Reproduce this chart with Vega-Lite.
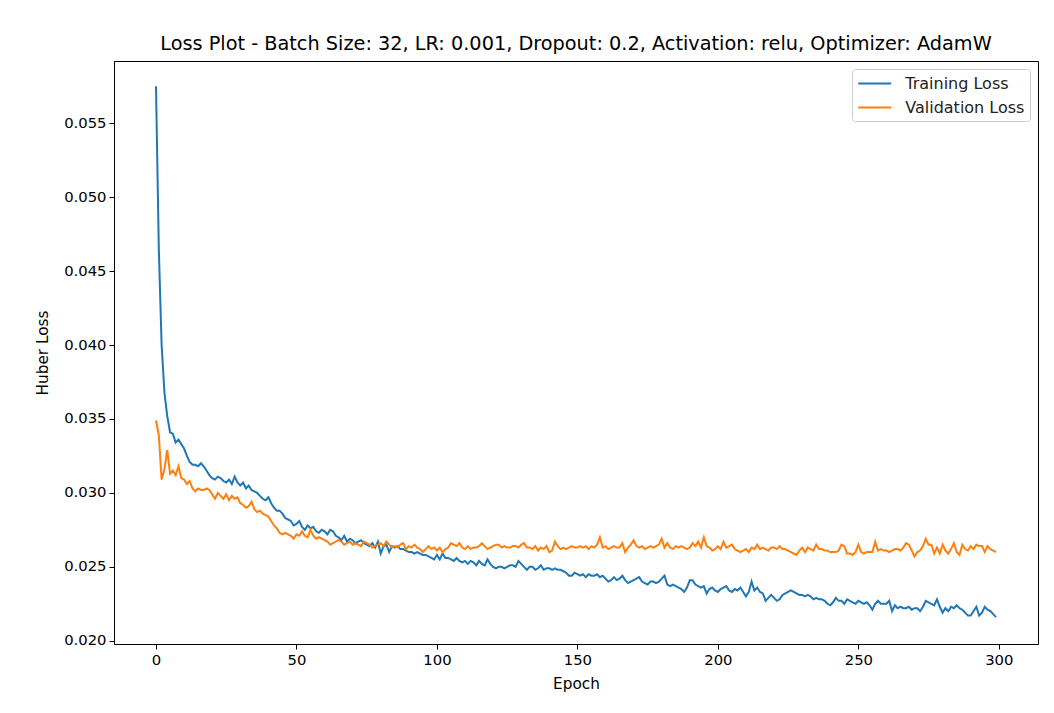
{
  "$schema": "https://vega.github.io/schema/vega-lite/v6.json",
  "autosize": {"type": "none"},
  "width": 924,
  "height": 583,
  "padding": {"left": 114, "top": 61, "right": 16, "bottom": 69},
  "background": "white",
  "title": {"text": "Loss Plot - Batch Size: 32, LR: 0.001, Dropout: 0.2, Activation: relu, Optimizer: AdamW", "font": "DejaVu Sans", "fontSize": 19.3, "fontWeight": "normal", "color": "#000", "anchor": "middle", "offset": 7},
  "config": {
    "font": "DejaVu Sans",
    "view": {"stroke": "#000", "strokeWidth": 1},
    "axis": {"grid": false, "domainColor": "#000", "domainWidth": 1, "tickColor": "#000", "tickSize": 5, "tickWidth": 1, "labelFont": "DejaVu Sans", "labelFontSize": 14.8, "labelColor": "#000", "titleFont": "DejaVu Sans", "titleFontSize": 15.3, "titleFontWeight": "normal", "titleColor": "#000", "labelPadding": 3}
  },
  "data": {"values": [
{"e":0,"Training Loss":0.0575,"Validation Loss":0.0349},{"e":1,"Training Loss":0.0465,"Validation Loss":0.0339},{"e":2,"Training Loss":0.0400,"Validation Loss":0.0309},{"e":3,"Training Loss":0.0368,"Validation Loss":0.0316},{"e":4,"Training Loss":0.0352,"Validation Loss":0.0329},{"e":5,"Training Loss":0.0341,"Validation Loss":0.0313},{"e":6,"Training Loss":0.0340,"Validation Loss":0.0315},{"e":7,"Training Loss":0.0334,"Validation Loss":0.0312},{"e":8,"Training Loss":0.0336,"Validation Loss":0.0318},{"e":9,"Training Loss":0.0333,"Validation Loss":0.0310},
{"e":10,"Training Loss":0.0330,"Validation Loss":0.0309},{"e":11,"Training Loss":0.0325,"Validation Loss":0.0306},{"e":12,"Training Loss":0.0321,"Validation Loss":0.0308},{"e":13,"Training Loss":0.0319,"Validation Loss":0.0303},{"e":14,"Training Loss":0.0319,"Validation Loss":0.0301},{"e":15,"Training Loss":0.0318,"Validation Loss":0.0303},{"e":16,"Training Loss":0.0320,"Validation Loss":0.0302},{"e":17,"Training Loss":0.0318,"Validation Loss":0.0302},{"e":18,"Training Loss":0.0315,"Validation Loss":0.0303},{"e":19,"Training Loss":0.0312,"Validation Loss":0.0302},
{"e":20,"Training Loss":0.0310,"Validation Loss":0.0299},{"e":21,"Training Loss":0.0309,"Validation Loss":0.0296},{"e":22,"Training Loss":0.0311,"Validation Loss":0.0300},{"e":23,"Training Loss":0.0310,"Validation Loss":0.0298},{"e":24,"Training Loss":0.0308,"Validation Loss":0.0296},{"e":25,"Training Loss":0.0307,"Validation Loss":0.0299},{"e":26,"Training Loss":0.0309,"Validation Loss":0.0295},{"e":27,"Training Loss":0.0306,"Validation Loss":0.0298},{"e":28,"Training Loss":0.0311,"Validation Loss":0.0296},{"e":29,"Training Loss":0.0307,"Validation Loss":0.0297},
{"e":30,"Training Loss":0.0305,"Validation Loss":0.0293},{"e":31,"Training Loss":0.0307,"Validation Loss":0.0292},{"e":32,"Training Loss":0.0303,"Validation Loss":0.0290},{"e":33,"Training Loss":0.0305,"Validation Loss":0.0291},{"e":34,"Training Loss":0.0302,"Validation Loss":0.0294},{"e":35,"Training Loss":0.0301,"Validation Loss":0.0289},{"e":36,"Training Loss":0.0300,"Validation Loss":0.0287},{"e":37,"Training Loss":0.0298,"Validation Loss":0.0288},{"e":38,"Training Loss":0.0296,"Validation Loss":0.0286},{"e":39,"Training Loss":0.0295,"Validation Loss":0.0285},
{"e":40,"Training Loss":0.0297,"Validation Loss":0.0284},{"e":41,"Training Loss":0.0293,"Validation Loss":0.0281},{"e":42,"Training Loss":0.0290,"Validation Loss":0.0278},{"e":43,"Training Loss":0.0288,"Validation Loss":0.0276},{"e":44,"Training Loss":0.0288,"Validation Loss":0.0273},{"e":45,"Training Loss":0.0286,"Validation Loss":0.0272},{"e":46,"Training Loss":0.0283,"Validation Loss":0.0273},{"e":47,"Training Loss":0.0282,"Validation Loss":0.0272},{"e":48,"Training Loss":0.0281,"Validation Loss":0.0271},{"e":49,"Training Loss":0.0278,"Validation Loss":0.0269},
{"e":50,"Training Loss":0.0279,"Validation Loss":0.0272},{"e":51,"Training Loss":0.0281,"Validation Loss":0.0271},{"e":52,"Training Loss":0.0277,"Validation Loss":0.0274},{"e":53,"Training Loss":0.0275,"Validation Loss":0.0271},{"e":54,"Training Loss":0.0278,"Validation Loss":0.0270},{"e":55,"Training Loss":0.0276,"Validation Loss":0.0275},{"e":56,"Training Loss":0.0277,"Validation Loss":0.0271},{"e":57,"Training Loss":0.0274,"Validation Loss":0.0269},{"e":58,"Training Loss":0.0273,"Validation Loss":0.0270},{"e":59,"Training Loss":0.0275,"Validation Loss":0.0269},
{"e":60,"Training Loss":0.0274,"Validation Loss":0.0268},{"e":61,"Training Loss":0.0272,"Validation Loss":0.0267},{"e":62,"Training Loss":0.0275,"Validation Loss":0.0265},{"e":63,"Training Loss":0.0274,"Validation Loss":0.0266},{"e":64,"Training Loss":0.0271,"Validation Loss":0.0267},{"e":65,"Training Loss":0.0270,"Validation Loss":0.0268},{"e":66,"Training Loss":0.0268,"Validation Loss":0.0267},{"e":67,"Training Loss":0.0271,"Validation Loss":0.0265},{"e":68,"Training Loss":0.0267,"Validation Loss":0.0266},{"e":69,"Training Loss":0.0269,"Validation Loss":0.0267},
{"e":70,"Training Loss":0.0268,"Validation Loss":0.0265},{"e":71,"Training Loss":0.0266,"Validation Loss":0.0266},{"e":72,"Training Loss":0.0267,"Validation Loss":0.0265},{"e":73,"Training Loss":0.0268,"Validation Loss":0.0264},{"e":74,"Training Loss":0.0266,"Validation Loss":0.0267},{"e":75,"Training Loss":0.0265,"Validation Loss":0.0266},{"e":76,"Training Loss":0.0264,"Validation Loss":0.0265},{"e":77,"Training Loss":0.0266,"Validation Loss":0.0263},{"e":78,"Training Loss":0.0263,"Validation Loss":0.0264},{"e":79,"Training Loss":0.0267,"Validation Loss":0.0265},
{"e":80,"Training Loss":0.0259,"Validation Loss":0.0266},{"e":81,"Training Loss":0.0264,"Validation Loss":0.0264},{"e":82,"Training Loss":0.0265,"Validation Loss":0.0267},{"e":83,"Training Loss":0.0260,"Validation Loss":0.0265},{"e":84,"Training Loss":0.0264,"Validation Loss":0.0263},{"e":85,"Training Loss":0.0263,"Validation Loss":0.0264},{"e":86,"Training Loss":0.0264,"Validation Loss":0.0263},{"e":87,"Training Loss":0.0262,"Validation Loss":0.0265},{"e":88,"Training Loss":0.0262,"Validation Loss":0.0266},{"e":89,"Training Loss":0.0261,"Validation Loss":0.0262},
{"e":90,"Training Loss":0.0260,"Validation Loss":0.0264},{"e":91,"Training Loss":0.0260,"Validation Loss":0.0263},{"e":92,"Training Loss":0.0259,"Validation Loss":0.0265},{"e":93,"Training Loss":0.0260,"Validation Loss":0.0263},{"e":94,"Training Loss":0.0259,"Validation Loss":0.0262},{"e":95,"Training Loss":0.0258,"Validation Loss":0.0260},{"e":96,"Training Loss":0.0258,"Validation Loss":0.0262},{"e":97,"Training Loss":0.0257,"Validation Loss":0.0264},{"e":98,"Training Loss":0.0256,"Validation Loss":0.0262},{"e":99,"Training Loss":0.0255,"Validation Loss":0.0263},
{"e":100,"Training Loss":0.0258,"Validation Loss":0.0261},{"e":101,"Training Loss":0.0255,"Validation Loss":0.0263},{"e":102,"Training Loss":0.0259,"Validation Loss":0.0260},{"e":103,"Training Loss":0.0256,"Validation Loss":0.0262},{"e":104,"Training Loss":0.0256,"Validation Loss":0.0263},{"e":105,"Training Loss":0.0255,"Validation Loss":0.0266},{"e":106,"Training Loss":0.0254,"Validation Loss":0.0265},{"e":107,"Training Loss":0.0256,"Validation Loss":0.0264},{"e":108,"Training Loss":0.0254,"Validation Loss":0.0266},{"e":109,"Training Loss":0.0253,"Validation Loss":0.0263},
{"e":110,"Training Loss":0.0254,"Validation Loss":0.0262},{"e":111,"Training Loss":0.0252,"Validation Loss":0.0264},{"e":112,"Training Loss":0.0254,"Validation Loss":0.0262},{"e":113,"Training Loss":0.0253,"Validation Loss":0.0263},{"e":114,"Training Loss":0.0251,"Validation Loss":0.0263},{"e":115,"Training Loss":0.0254,"Validation Loss":0.0264},{"e":116,"Training Loss":0.0252,"Validation Loss":0.0266},{"e":117,"Training Loss":0.0251,"Validation Loss":0.0264},{"e":118,"Training Loss":0.0255,"Validation Loss":0.0262},{"e":119,"Training Loss":0.0252,"Validation Loss":0.0263},
{"e":120,"Training Loss":0.0250,"Validation Loss":0.0264},{"e":121,"Training Loss":0.0249,"Validation Loss":0.0265},{"e":122,"Training Loss":0.0250,"Validation Loss":0.0265},{"e":123,"Training Loss":0.0250,"Validation Loss":0.0263},{"e":124,"Training Loss":0.0249,"Validation Loss":0.0264},{"e":125,"Training Loss":0.0250,"Validation Loss":0.0263},{"e":126,"Training Loss":0.0251,"Validation Loss":0.0263},{"e":127,"Training Loss":0.0251,"Validation Loss":0.0264},{"e":128,"Training Loss":0.0250,"Validation Loss":0.0264},{"e":129,"Training Loss":0.0254,"Validation Loss":0.0263},
{"e":130,"Training Loss":0.0252,"Validation Loss":0.0265},{"e":131,"Training Loss":0.0250,"Validation Loss":0.0266},{"e":132,"Training Loss":0.0248,"Validation Loss":0.0263},{"e":133,"Training Loss":0.0250,"Validation Loss":0.0263},{"e":134,"Training Loss":0.0250,"Validation Loss":0.0262},{"e":135,"Training Loss":0.0248,"Validation Loss":0.0264},{"e":136,"Training Loss":0.0249,"Validation Loss":0.0261},{"e":137,"Training Loss":0.0251,"Validation Loss":0.0263},{"e":138,"Training Loss":0.0248,"Validation Loss":0.0262},{"e":139,"Training Loss":0.0249,"Validation Loss":0.0264},
{"e":140,"Training Loss":0.0249,"Validation Loss":0.0260},{"e":141,"Training Loss":0.0248,"Validation Loss":0.0261},{"e":142,"Training Loss":0.0249,"Validation Loss":0.0267},{"e":143,"Training Loss":0.0248,"Validation Loss":0.0264},{"e":144,"Training Loss":0.0248,"Validation Loss":0.0262},{"e":145,"Training Loss":0.0247,"Validation Loss":0.0263},{"e":146,"Training Loss":0.0246,"Validation Loss":0.0262},{"e":147,"Training Loss":0.0244,"Validation Loss":0.0263},{"e":148,"Training Loss":0.0244,"Validation Loss":0.0264},{"e":149,"Training Loss":0.0246,"Validation Loss":0.0263},
{"e":150,"Training Loss":0.0245,"Validation Loss":0.0263},{"e":151,"Training Loss":0.0244,"Validation Loss":0.0264},{"e":152,"Training Loss":0.0245,"Validation Loss":0.0263},{"e":153,"Training Loss":0.0243,"Validation Loss":0.0264},{"e":154,"Training Loss":0.0245,"Validation Loss":0.0262},{"e":155,"Training Loss":0.0244,"Validation Loss":0.0264},{"e":156,"Training Loss":0.0244,"Validation Loss":0.0263},{"e":157,"Training Loss":0.0245,"Validation Loss":0.0265},{"e":158,"Training Loss":0.0243,"Validation Loss":0.0270},{"e":159,"Training Loss":0.0244,"Validation Loss":0.0263},
{"e":160,"Training Loss":0.0242,"Validation Loss":0.0264},{"e":161,"Training Loss":0.0240,"Validation Loss":0.0262},{"e":162,"Training Loss":0.0241,"Validation Loss":0.0263},{"e":163,"Training Loss":0.0243,"Validation Loss":0.0264},{"e":164,"Training Loss":0.0241,"Validation Loss":0.0263},{"e":165,"Training Loss":0.0242,"Validation Loss":0.0263},{"e":166,"Training Loss":0.0244,"Validation Loss":0.0266},{"e":167,"Training Loss":0.0241,"Validation Loss":0.0260},{"e":168,"Training Loss":0.0239,"Validation Loss":0.0263},{"e":169,"Training Loss":0.0240,"Validation Loss":0.0265},
{"e":170,"Training Loss":0.0241,"Validation Loss":0.0268},{"e":171,"Training Loss":0.0242,"Validation Loss":0.0264},{"e":172,"Training Loss":0.0243,"Validation Loss":0.0263},{"e":173,"Training Loss":0.0240,"Validation Loss":0.0264},{"e":174,"Training Loss":0.0239,"Validation Loss":0.0262},{"e":175,"Training Loss":0.0238,"Validation Loss":0.0263},{"e":176,"Training Loss":0.0240,"Validation Loss":0.0264},{"e":177,"Training Loss":0.0240,"Validation Loss":0.0263},{"e":178,"Training Loss":0.0239,"Validation Loss":0.0264},{"e":179,"Training Loss":0.0240,"Validation Loss":0.0265},
{"e":180,"Training Loss":0.0242,"Validation Loss":0.0269},{"e":181,"Training Loss":0.0244,"Validation Loss":0.0263},{"e":182,"Training Loss":0.0238,"Validation Loss":0.0266},{"e":183,"Training Loss":0.0237,"Validation Loss":0.0263},{"e":184,"Training Loss":0.0238,"Validation Loss":0.0262},{"e":185,"Training Loss":0.0237,"Validation Loss":0.0264},{"e":186,"Training Loss":0.0236,"Validation Loss":0.0263},{"e":187,"Training Loss":0.0235,"Validation Loss":0.0264},{"e":188,"Training Loss":0.0233,"Validation Loss":0.0263},{"e":189,"Training Loss":0.0236,"Validation Loss":0.0262},
{"e":190,"Training Loss":0.0241,"Validation Loss":0.0263},{"e":191,"Training Loss":0.0241,"Validation Loss":0.0266},{"e":192,"Training Loss":0.0238,"Validation Loss":0.0264},{"e":193,"Training Loss":0.0237,"Validation Loss":0.0267},{"e":194,"Training Loss":0.0236,"Validation Loss":0.0263},{"e":195,"Training Loss":0.0237,"Validation Loss":0.0270},{"e":196,"Training Loss":0.0232,"Validation Loss":0.0264},{"e":197,"Training Loss":0.0235,"Validation Loss":0.0263},{"e":198,"Training Loss":0.0236,"Validation Loss":0.0261},{"e":199,"Training Loss":0.0234,"Validation Loss":0.0262},
{"e":200,"Training Loss":0.0233,"Validation Loss":0.0264},{"e":201,"Training Loss":0.0235,"Validation Loss":0.0262},{"e":202,"Training Loss":0.0236,"Validation Loss":0.0267},{"e":203,"Training Loss":0.0237,"Validation Loss":0.0263},{"e":204,"Training Loss":0.0234,"Validation Loss":0.0264},{"e":205,"Training Loss":0.0233,"Validation Loss":0.0265},{"e":206,"Training Loss":0.0235,"Validation Loss":0.0262},{"e":207,"Training Loss":0.0234,"Validation Loss":0.0261},{"e":208,"Training Loss":0.0236,"Validation Loss":0.0260},{"e":209,"Training Loss":0.0233,"Validation Loss":0.0261},
{"e":210,"Training Loss":0.0230,"Validation Loss":0.0262},{"e":211,"Training Loss":0.0233,"Validation Loss":0.0260},{"e":212,"Training Loss":0.0240,"Validation Loss":0.0263},{"e":213,"Training Loss":0.0234,"Validation Loss":0.0262},{"e":214,"Training Loss":0.0236,"Validation Loss":0.0265},{"e":215,"Training Loss":0.0233,"Validation Loss":0.0262},{"e":216,"Training Loss":0.0232,"Validation Loss":0.0263},{"e":217,"Training Loss":0.0227,"Validation Loss":0.0262},{"e":218,"Training Loss":0.0229,"Validation Loss":0.0261},{"e":219,"Training Loss":0.0231,"Validation Loss":0.0263},
{"e":220,"Training Loss":0.0229,"Validation Loss":0.0263},{"e":221,"Training Loss":0.0227,"Validation Loss":0.0262},{"e":222,"Training Loss":0.0228,"Validation Loss":0.0264},{"e":223,"Training Loss":0.0231,"Validation Loss":0.0262},{"e":224,"Training Loss":0.0232,"Validation Loss":0.0262},{"e":225,"Training Loss":0.0233,"Validation Loss":0.0261},{"e":226,"Training Loss":0.0234,"Validation Loss":0.0260},{"e":227,"Training Loss":0.0233,"Validation Loss":0.0259},{"e":228,"Training Loss":0.0232,"Validation Loss":0.0258},{"e":229,"Training Loss":0.0231,"Validation Loss":0.0261},
{"e":230,"Training Loss":0.0231,"Validation Loss":0.0263},{"e":231,"Training Loss":0.0230,"Validation Loss":0.0260},{"e":232,"Training Loss":0.0231,"Validation Loss":0.0263},{"e":233,"Training Loss":0.0230,"Validation Loss":0.0262},{"e":234,"Training Loss":0.0228,"Validation Loss":0.0261},{"e":235,"Training Loss":0.0229,"Validation Loss":0.0265},{"e":236,"Training Loss":0.0228,"Validation Loss":0.0262},{"e":237,"Training Loss":0.0228,"Validation Loss":0.0262},{"e":238,"Training Loss":0.0227,"Validation Loss":0.0261},{"e":239,"Training Loss":0.0225,"Validation Loss":0.0261},
{"e":240,"Training Loss":0.0224,"Validation Loss":0.0260},{"e":241,"Training Loss":0.0226,"Validation Loss":0.0260},{"e":242,"Training Loss":0.0229,"Validation Loss":0.0260},{"e":243,"Training Loss":0.0227,"Validation Loss":0.0261},{"e":244,"Training Loss":0.0227,"Validation Loss":0.0265},{"e":245,"Training Loss":0.0225,"Validation Loss":0.0264},{"e":246,"Training Loss":0.0228,"Validation Loss":0.0259},{"e":247,"Training Loss":0.0227,"Validation Loss":0.0259},{"e":248,"Training Loss":0.0226,"Validation Loss":0.0258},{"e":249,"Training Loss":0.0225,"Validation Loss":0.0260},
{"e":250,"Training Loss":0.0227,"Validation Loss":0.0265},{"e":251,"Training Loss":0.0226,"Validation Loss":0.0260},{"e":252,"Training Loss":0.0225,"Validation Loss":0.0259},{"e":253,"Training Loss":0.0226,"Validation Loss":0.0260},{"e":254,"Training Loss":0.0224,"Validation Loss":0.0260},{"e":255,"Training Loss":0.0221,"Validation Loss":0.0260},{"e":256,"Training Loss":0.0225,"Validation Loss":0.0267},{"e":257,"Training Loss":0.0227,"Validation Loss":0.0261},{"e":258,"Training Loss":0.0225,"Validation Loss":0.0262},{"e":259,"Training Loss":0.0225,"Validation Loss":0.0261},
{"e":260,"Training Loss":0.0225,"Validation Loss":0.0261},{"e":261,"Training Loss":0.0227,"Validation Loss":0.0260},{"e":262,"Training Loss":0.0220,"Validation Loss":0.0261},{"e":263,"Training Loss":0.0224,"Validation Loss":0.0262},{"e":264,"Training Loss":0.0222,"Validation Loss":0.0262},{"e":265,"Training Loss":0.0223,"Validation Loss":0.0261},{"e":266,"Training Loss":0.0222,"Validation Loss":0.0263},{"e":267,"Training Loss":0.0222,"Validation Loss":0.0266},{"e":268,"Training Loss":0.0223,"Validation Loss":0.0265},{"e":269,"Training Loss":0.0221,"Validation Loss":0.0261},
{"e":270,"Training Loss":0.0222,"Validation Loss":0.0257},{"e":271,"Training Loss":0.0222,"Validation Loss":0.0260},{"e":272,"Training Loss":0.0220,"Validation Loss":0.0261},{"e":273,"Training Loss":0.0223,"Validation Loss":0.0264},{"e":274,"Training Loss":0.0227,"Validation Loss":0.0269},{"e":275,"Training Loss":0.0226,"Validation Loss":0.0265},{"e":276,"Training Loss":0.0225,"Validation Loss":0.0265},{"e":277,"Training Loss":0.0224,"Validation Loss":0.0259},{"e":278,"Training Loss":0.0228,"Validation Loss":0.0263},{"e":279,"Training Loss":0.0223,"Validation Loss":0.0259},
{"e":280,"Training Loss":0.0219,"Validation Loss":0.0265},{"e":281,"Training Loss":0.0222,"Validation Loss":0.0261},{"e":282,"Training Loss":0.0220,"Validation Loss":0.0259},{"e":283,"Training Loss":0.0223,"Validation Loss":0.0262},{"e":284,"Training Loss":0.0222,"Validation Loss":0.0266},{"e":285,"Training Loss":0.0224,"Validation Loss":0.0260},{"e":286,"Training Loss":0.0222,"Validation Loss":0.0258},{"e":287,"Training Loss":0.0221,"Validation Loss":0.0265},{"e":288,"Training Loss":0.0219,"Validation Loss":0.0262},{"e":289,"Training Loss":0.0217,"Validation Loss":0.0261},
{"e":290,"Training Loss":0.0217,"Validation Loss":0.0264},{"e":291,"Training Loss":0.0220,"Validation Loss":0.0262},{"e":292,"Training Loss":0.0223,"Validation Loss":0.0265},{"e":293,"Training Loss":0.0217,"Validation Loss":0.0264},{"e":294,"Training Loss":0.0219,"Validation Loss":0.0264},{"e":295,"Training Loss":0.0223,"Validation Loss":0.0260},{"e":296,"Training Loss":0.0221,"Validation Loss":0.0264},{"e":297,"Training Loss":0.0220,"Validation Loss":0.0262},{"e":298,"Training Loss":0.0218,"Validation Loss":0.0261},{"e":299,"Training Loss":0.0216,"Validation Loss":0.0260}
  ]},
  "transform": [{"fold": ["Training Loss", "Validation Loss"], "as": ["series", "loss"]}],
  "mark": {"type": "line", "strokeWidth": 2, "clip": true},
  "encoding": {
    "x": {"field": "e", "type": "quantitative", "title": "Epoch",
      "scale": {"domain": [-14.95, 313.95], "nice": false, "zero": false},
      "axis": {"values": [0, 50, 100, 150, 200, 250, 300], "format": "d", "titlePadding": 10}},
    "y": {"field": "loss", "type": "quantitative", "title": "Huber Loss",
      "scale": {"domain": [0.01978, 0.05921], "nice": false, "zero": false},
      "axis": {"values": [0.02, 0.025, 0.03, 0.035, 0.04, 0.045, 0.05, 0.055], "format": ".3f", "titlePadding": 13}},
    "color": {"field": "series", "type": "nominal",
      "scale": {"domain": ["Training Loss", "Validation Loss"], "range": ["#1f77b4", "#ff7f0e"]},
      "legend": {"title": null, "orient": "top-right", "offset": 8, "symbolType": "M-2,0H2", "symbolSize": 272, "symbolStrokeWidth": 2, "symbolOffset": 8.25, "labelFontSize": 16, "labelFont": "DejaVu Sans", "labelColor": "#222", "rowPadding": 6, "padding": 5, "fillColor": "white", "strokeColor": "#ccc", "cornerRadius": 3, "labelOffset": 21}}
  }
}
